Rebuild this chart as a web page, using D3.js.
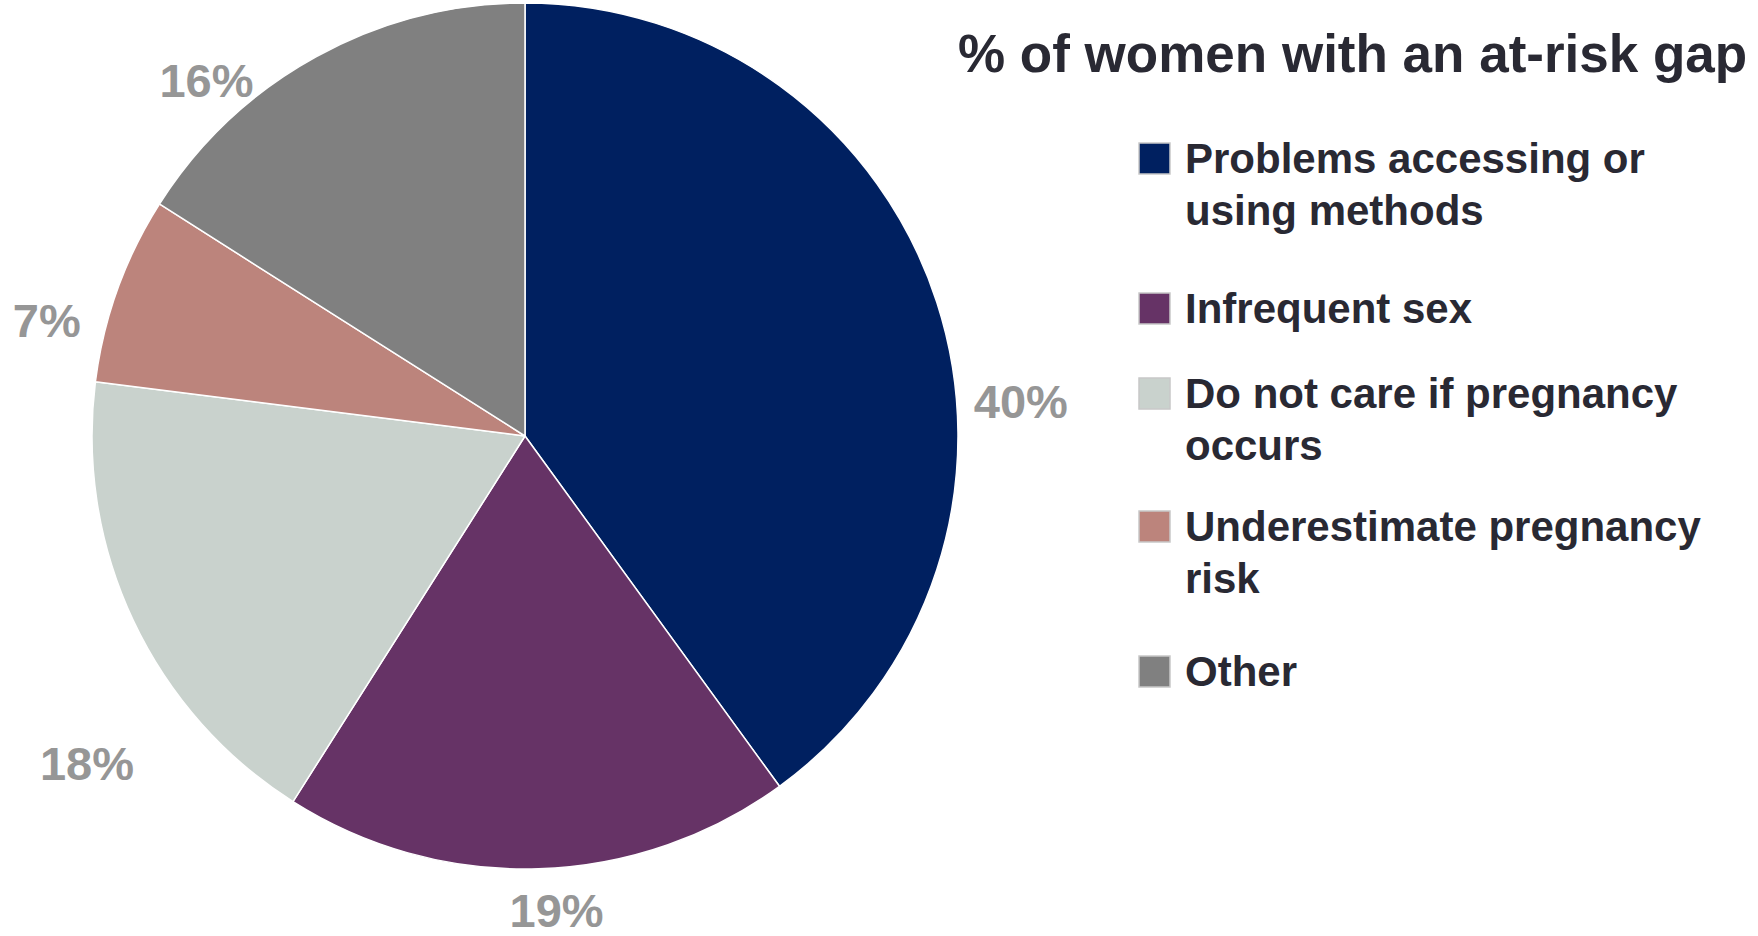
<!DOCTYPE html>
<html>
<head>
<meta charset="utf-8">
<script src="https://cdn.jsdelivr.net/npm/d3@7"></script>
<style>
  html, body { margin: 0; padding: 0; background: #ffffff; }
  svg { display: block; }
  text { font-family: "Liberation Sans", Arial, Helvetica, sans-serif; font-weight: bold; }
</style>
</head>
<body>
<svg id="chart" width="1758" height="936"></svg>
<script>
// ---- data ----
const title = "% of women with an at-risk gap";
const categories = [
  "Problems accessing or using methods",
  "Infrequent sex",
  "Do not care if pregnancy occurs",
  "Underestimate pregnancy risk",
  "Other"
];
const legendLines = [
  ["Problems accessing or", "using methods"],
  ["Infrequent sex"],
  ["Do not care if pregnancy", "occurs"],
  ["Underestimate pregnancy", "risk"],
  ["Other"]
];
const values = [40, 19, 18, 7, 16];
const valueLabels = ["40%", "19%", "18%", "7%", "16%"];
const colors = ["#002060", "#663366", "#C9D2CD", "#BC847C", "#808080"];

// ---- layout (not data) ----
const W = 1758, H = 936;
const cx = 525, cy = 436, R = 433;
// label placement: angular shift (deg) from slice mid-angle, and radius
const labelShiftDeg = [14, -2, -11.6, -6.2, -13.1];
const labelRadius   = [497, 476, 547, 492, 477];
const legendX = 1139, legendTextX = 1185, legendSize = 31, legendLineH = 52;
const legendBaselines = [173, 323, 408, 541, 686];

const svg = d3.select("#chart");

const pie = d3.pie().sort(null).value(d => d)(values);
const arc = d3.arc().innerRadius(0).outerRadius(R);
const color = d3.scaleOrdinal().domain(categories).range(colors);

const g = svg.append("g").attr("transform", `translate(${cx},${cy})`);
g.selectAll("path.slice")
  .data(pie)
  .join("path")
  .attr("class", "slice")
  .attr("d", arc)
  .attr("fill", (d, i) => color(categories[i]))
  .attr("stroke", "#ffffff")
  .attr("stroke-width", 1.5)
  .attr("stroke-linejoin", "round");

// value labels
g.selectAll("text.val")
  .data(pie)
  .join("text")
  .attr("class", "val")
  .attr("transform", (d, i) => {
    const mid = (d.startAngle + d.endAngle) / 2 + labelShiftDeg[i] * Math.PI / 180;
    const la = d3.arc().innerRadius(labelRadius[i]).outerRadius(labelRadius[i])
      .startAngle(mid).endAngle(mid);
    const [x, y] = la.centroid();
    return `translate(${x},${y})`;
  })
  .attr("text-anchor", "middle")
  .attr("dy", "0.35em")
  .attr("font-size", 47)
  .attr("fill", "#969696")
  .text((d, i) => valueLabels[i]);

// title
svg.append("text")
  .attr("x", 958)
  .attr("y", 72)
  .attr("font-size", 53)
  .attr("fill", "#292933")
  .text(title);

// legend
const lg = svg.append("g");
const items = lg.selectAll("g.item")
  .data(categories)
  .join("g")
  .attr("class", "item");

items.append("rect")
  .attr("x", legendX)
  .attr("y", (d, i) => legendBaselines[i] - legendSize + 1)
  .attr("width", legendSize)
  .attr("height", legendSize)
  .attr("fill", d => color(d))
  .attr("stroke", "#c8c8c8")
  .attr("stroke-width", 1.5);

items.append("text")
  .attr("x", legendTextX)
  .attr("y", (d, i) => legendBaselines[i])
  .attr("font-size", 42)
  .attr("fill", "#292933")
  .selectAll("tspan")
  .data((d, i) => legendLines[i])
  .join("tspan")
  .attr("x", legendTextX)
  .attr("dy", (d, j) => j === 0 ? 0 : legendLineH)
  .text(d => d);
</script>
</body>
</html>
